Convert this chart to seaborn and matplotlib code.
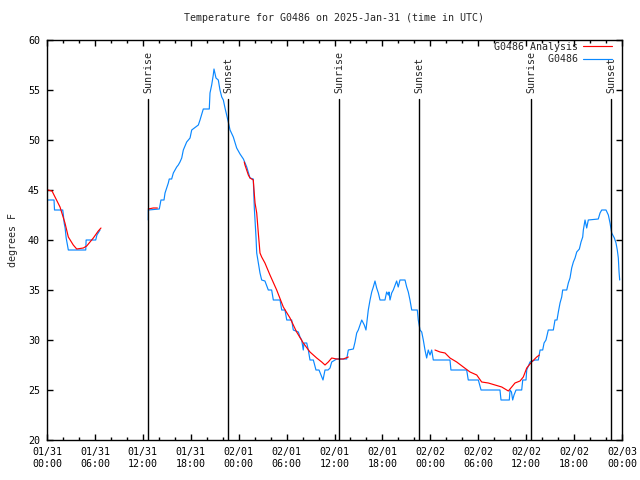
import numpy as np
import pandas as pd
import matplotlib
matplotlib.use('Agg')
import matplotlib.pyplot as plt
import matplotlib.dates as mdates
from matplotlib.lines import Line2D
import seaborn as sns

# 基本样式（set_style 之后再设字体）
sns.set_style('ticks')
plt.rcParams['font.family'] = ['DejaVu Sans Mono', 'DejaVu Sans']
plt.rcParams['font.size'] = 7.2

start = pd.Timestamp('2025-01-31 00:00')

# 观测值 G0486：距起点的小时数 / 华氏度
obs_hours_1 = [0.0, 0.88, 0.94, 1.97, 2.05, 2.15, 2.27, 2.4, 2.56, 2.67,
               4.85, 4.9, 6.1, 6.25, 6.64]
obs_temp_1 = [44, 44, 43, 43, 42.5, 41.7, 41.2, 40.2, 39.5, 39,
              39, 40, 40, 40.5, 41]

obs_hours_2 = [12.68, 12.69, 14.06, 14.15, 14.27, 14.65, 14.78, 14.9, 15.19, 15.31,
               15.61, 15.82, 16.24, 16.44, 16.65, 16.87, 17.07, 17.49, 17.91, 18.12,
               18.95, 19.16, 19.57, 20.32, 20.41, 20.62, 20.82, 20.91, 21.16, 21.45,
               21.66, 21.88, 22.08, 22.29, 22.5, 22.7, 22.92, 23.33, 23.75, 24.17,
               24.59, 25.01, 25.42, 25.83, 25.96, 26.17, 26.26, 26.46, 26.67, 26.88,
               27.29, 27.71, 28.13, 28.34, 29.18, 29.39, 29.8, 30.02, 30.64, 30.84,
               31.47, 31.68, 31.89, 32.09, 32.18, 32.52, 32.72, 32.93, 33.35, 33.68,
               34.06, 34.31, 34.56, 34.81, 35.19, 35.44, 35.65, 36.27, 37.53, 37.73,
               38.36, 38.57, 38.78, 38.98, 39.19, 39.41, 39.73, 39.94, 40.23, 40.45,
               40.66, 40.86, 41.07, 41.28, 41.49, 41.7, 42.32, 42.53, 42.74, 42.82,
               42.95, 43.16, 43.36, 43.78, 43.98, 44.2, 44.83, 45.04, 45.24, 45.45,
               45.67, 46.37, 46.49, 46.71, 46.92, 47.12, 47.33, 47.54, 47.74, 47.96,
               48.17, 48.37, 50.46, 50.58, 52.55, 52.75, 54.01, 54.35, 56.72, 56.85,
               57.89, 57.98, 58.16, 58.31, 58.48, 58.73, 59.44, 59.57, 59.98, 60.07,
               60.48, 61.11, 61.52, 61.74, 62.07, 62.24, 62.48, 62.77, 63.4, 63.61,
               63.86, 64.03, 64.24, 64.45, 64.57, 65.08, 65.28, 65.49, 65.7, 65.91,
               66.12, 66.33, 66.66, 66.87, 67.08, 67.16, 67.37, 67.58, 67.78, 69.03,
               69.25, 69.46, 70.0, 70.29, 70.5, 70.71, 71.04, 71.25, 71.41, 71.54,
               71.63, 71.71]
obs_temp_2 = [42, 43, 43.1, 43.5, 44, 44, 44.7, 45, 45.7, 46.1,
              46.1, 46.7, 47.3, 47.5, 47.8, 48.2, 49, 49.8, 50.2, 51,
              51.5, 52, 53.1, 53.1, 54.7, 55.5, 56.5, 57.1, 56.2, 56,
              55, 54.3, 54, 53.2, 52.5, 51.8, 51, 50.3, 49.2, 48.6,
              48.1, 47.3, 46.2, 46.1, 43.2, 40.3, 38.7, 37.7, 36.7, 36,
              35.9, 35, 35, 34, 34, 33, 33, 32, 32, 31,
              30.8, 30.3, 30, 29, 29.7, 29.7, 29, 28, 28, 27,
              27, 26.5, 26, 27, 27, 27.2, 27.8, 28.1, 28.1, 29,
              29.1, 29.8, 30.7, 31, 31.5, 32, 31.5, 31, 33, 34,
              34.8, 35.3, 35.9, 35.2, 34.7, 34, 34, 34.8, 34.5, 34.8,
              34, 34.7, 35, 35.9, 35.3, 36, 36, 35.3, 34.8, 34,
              33, 33, 32, 31, 30.8, 30, 29, 28.2, 29, 28.5,
              29, 28, 28, 27, 27, 26, 26, 25, 25, 24,
              24, 25, 24.8, 24, 24.5, 25, 25, 26, 26, 27,
              27.8, 28, 28, 29, 29, 29.7, 30, 31, 31, 32,
              32, 32.8, 33.7, 34.3, 35, 35, 35.7, 36.2, 37.2, 37.8,
              38.2, 38.8, 39.1, 39.8, 40.3, 41, 42, 41.2, 42, 42.1,
              42.7, 43, 43, 42.5, 41.7, 40.7, 40.2, 39.7, 39, 38.2,
              36.8, 36]

# 分析值 G0486 Analysis
ana_hours_1 = [0.1, 0.63, 1.63, 2.25, 2.67, 3.29, 3.72, 4.55, 4.97, 5.8, 6.42, 6.76]
ana_temp_1 = [45.0, 44.9, 43.3, 41.7, 40.3, 39.5, 39.1, 39.2, 39.4, 40.2, 40.9, 41.2]
ana_hours_2 = [12.68, 13.3, 13.82]
ana_temp_2 = [43.1, 43.2, 43.2]
ana_hours_3 = [24.7, 24.79, 25.21, 25.42, 25.83, 25.92, 26.05, 26.26, 26.46, 26.67,
               26.88, 27.29, 27.92, 28.76, 29.59, 30.43, 31.26, 32.09, 32.93, 33.77,
               34.4, 34.81, 35.22, 35.65, 36.27, 37.1, 37.73]
ana_temp_3 = [47.8, 47.5, 46.5, 46.2, 46.0, 45.0, 43.7, 42.7, 40.7, 38.7,
              38.3, 37.7, 36.5, 35.0, 33.3, 32.2, 30.8, 29.7, 28.8, 28.2,
              27.8, 27.5, 27.8, 28.2, 28.1, 28.1, 28.3]
ana_hours_4 = [48.58, 49.21, 49.84, 50.46, 51.3, 52.13, 52.97, 53.81, 54.43, 55.26,
               56.1, 56.94, 57.77, 58.19, 58.6, 59.23, 59.64, 60.07, 60.69, 61.32, 61.65]
ana_temp_4 = [29.0, 28.8, 28.7, 28.2, 27.8, 27.3, 26.8, 26.5, 25.8, 25.7,
              25.5, 25.3, 24.9, 25.3, 25.7, 25.9, 26.3, 27.2, 27.8, 28.3, 28.5]

# 日出日落（小时）
sunrise_hours = [12.68, 36.6, 60.65]
sunset_hours = [22.7, 46.62, 70.66]

RED = '#ff0000'
BLUE = '#0a88ff'


def make_df(segments):
    frames = []
    for i, (h, t) in enumerate(segments):
        frames.append(pd.DataFrame({'time': start + pd.to_timedelta(h, unit='h'),
                                    'temp': t, 'seg': i}))
    return pd.concat(frames, ignore_index=True)


obs_df = make_df([(obs_hours_1, obs_temp_1), (obs_hours_2, obs_temp_2)])
ana_df = make_df([(ana_hours_1, ana_temp_1), (ana_hours_2, ana_temp_2),
                  (ana_hours_3, ana_temp_3), (ana_hours_4, ana_temp_4)])

fig = plt.figure(figsize=(6.4, 4.8), dpi=100)
ax = fig.add_axes([47 / 640, 40 / 480, 575 / 640, 400 / 480])

sns.lineplot(data=obs_df, x='time', y='temp', units='seg', estimator=None,
             sort=False, color=BLUE, linewidth=0.85, ax=ax)
sns.lineplot(data=ana_df, x='time', y='temp', units='seg', estimator=None,
             sort=False, color=RED, linewidth=0.85, ax=ax)

# 日出/日落竖线和标注
for hours, name in [(sunrise_hours, 'Sunrise'), (sunset_hours, 'Sunset')]:
    for h in hours:
        t = start + pd.Timedelta(hours=h)
        ax.axvline(t, ymin=0, ymax=0.8525, color='black', linewidth=1.0)
        ax.text(t, 0.8675, name, rotation=90, ha='center', va='bottom',
                transform=ax.get_xaxis_transform(), fontsize=7.2)

ax.set_xlim(start, start + pd.Timedelta(hours=72))
ax.set_ylim(20, 60)
ax.set_yticks(np.arange(20, 61, 5))
ax.xaxis.set_major_locator(mdates.HourLocator(byhour=[0, 6, 12, 18]))
ax.xaxis.set_minor_locator(mdates.HourLocator(byhour=range(0, 24, 2)))
ax.xaxis.set_major_formatter(mdates.DateFormatter('%m/%d\n%H:%M'))

ax.tick_params(which='both', direction='in', top=True, right=True,
               width=1.0, colors='black', labelsize=7.2)
ax.tick_params(which='major', length=4, pad=5)
ax.tick_params(which='minor', length=2.5)
for sp in ax.spines.values():
    sp.set_visible(True)
    sp.set_linewidth(1.0)
    sp.set_color('black')

ax.set_xlabel('')
ax.set_ylabel('degrees F', fontsize=7.2, labelpad=7)
ax.set_title('Temperature for G0486 on 2025-Jan-31 (time in UTC)',
             fontsize=7.2, pad=14)

handles = [Line2D([], [], color=RED, linewidth=0.85),
           Line2D([], [], color=BLUE, linewidth=0.85)]
ax.legend(handles, ['G0486 Analysis', '         G0486'], loc='upper right',
          bbox_to_anchor=(0.982, 0.995), frameon=False, markerfirst=False,
          handlelength=2.9, handletextpad=0.5, labelspacing=0.25,
          borderaxespad=0, borderpad=0, fontsize=7.2)

fig.savefig('out.png', dpi=100)
